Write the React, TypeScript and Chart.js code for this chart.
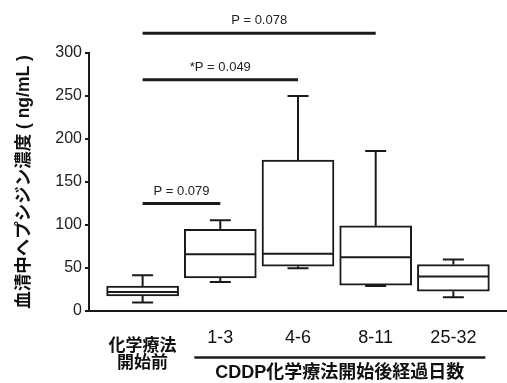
import React, { useEffect, useRef } from 'react';
import { Chart, registerables } from 'chart.js';

Chart.register(...registerables);

// ---- data ----
const categories = ['化学療法\n開始前', '1-3', '4-6', '8-11', '25-32'];
const groupTitle = 'CDDP化学療法開始後経過日数';
const mins = [10, 33.7, 49.6, 29, 16];
const q1s = [17.4, 38.4, 52, 30, 23];
const medians = [22, 66, 66.6, 62.4, 40];
const q3s = [29, 95, 175.6, 99, 54];
const maxs = [41.5, 105.5, 250, 186, 60];
const yTicks = [0, 50, 100, 150, 200, 250, 300];
const yTitle = '血清中ヘプシジン濃度 ( ng/mL )';
const compFrom = [0, 0, 0];
const compTo = [1, 2, 3];
const compLevel = [125, 269, 323];
const compLabels = ['P = 0.079', '*P = 0.049', 'P = 0.078'];

const INK = '#1a1a1a';
const FONT = '"Liberation Sans", Arial, "Noto Sans CJK JP", sans-serif';

const boxPlugin = {
  id: 'boxExtras',
  afterDatasetsDraw(chart: any) {
    const { ctx, scales, chartArea } = chart;
    const x = scales.x;
    const y = scales.y;
    ctx.save();
    ctx.strokeStyle = INK;
    ctx.fillStyle = INK;
    ctx.lineWidth = 2;
    const half = 35;
    const cap = 10.5;
    for (let i = 0; i < categories.length; i++) {
      const cx = x.getPixelForValue(i);
      const ym = y.getPixelForValue(medians[i]);
      ctx.beginPath();
      ctx.moveTo(cx - half, ym);
      ctx.lineTo(cx + half, ym);
      // upper whisker
      const y3 = y.getPixelForValue(q3s[i]);
      const yMax = y.getPixelForValue(maxs[i]);
      ctx.moveTo(cx, y3);
      ctx.lineTo(cx, yMax);
      ctx.moveTo(cx - cap, yMax);
      ctx.lineTo(cx + cap, yMax);
      // lower whisker
      const y1 = y.getPixelForValue(q1s[i]);
      const yMin = y.getPixelForValue(mins[i]);
      ctx.moveTo(cx, y1);
      ctx.lineTo(cx, yMin);
      ctx.moveTo(cx - cap, yMin);
      ctx.lineTo(cx + cap, yMin);
      ctx.stroke();
    }

    // comparison brackets
    ctx.lineWidth = 3;
    ctx.font = '13px ' + FONT;
    ctx.textAlign = 'center';
    ctx.textBaseline = 'middle';
    ctx.fillStyle = '#222';
    for (let k = 0; k < compLabels.length; k++) {
      const xa = x.getPixelForValue(compFrom[k]);
      const xb = x.getPixelForValue(compTo[k]);
      const yy = y.getPixelForValue(compLevel[k]);
      ctx.beginPath();
      ctx.moveTo(xa, yy);
      ctx.lineTo(xb, yy);
      ctx.stroke();
      ctx.fillText(compLabels[k], (xa + xb) / 2, yy - 12.5);
    }

    // category labels
    const base = chartArea.bottom;
    ctx.fillStyle = '#111';
    for (let i = 0; i < categories.length; i++) {
      const cx = x.getPixelForValue(i);
      const lines = categories[i].split('\n');
      if (lines.length > 1) {
        ctx.font = 'bold 17px ' + FONT;
        lines.forEach((ln, j) => ctx.fillText(ln, cx, base + 35 + j * 17));
      } else {
        ctx.font = '18px ' + FONT;
        ctx.fillText(lines[0], cx, base + 27.5);
      }
    }
    // group line and title
    const gx1 = x.getPixelForValue(1) - 26;
    const gx2 = x.getPixelForValue(categories.length - 1) + 32;
    ctx.lineWidth = 2.5;
    ctx.beginPath();
    ctx.moveTo(gx1, base + 46.5);
    ctx.lineTo(gx2, base + 46.5);
    ctx.stroke();
    ctx.font = 'bold 18px ' + FONT;
    ctx.fillText(groupTitle, (gx1 + gx2) / 2, base + 62.5);
    ctx.restore();
  },
};

export default function App() {
  const ref = useRef<HTMLCanvasElement | null>(null);
  useEffect(() => {
    if (!ref.current) return;
    const chart = new Chart(ref.current, {
      type: 'bar',
      data: {
        datasets: [
          {
            data: categories.map((_, i) => ({ x: i, y: [q1s[i], q3s[i]] })) as any,
            backgroundColor: '#ffffff',
            borderColor: INK,
            borderWidth: 2,
            borderSkipped: false,
            barThickness: 72,
          },
        ],
      },
      options: {
        responsive: false,
        animation: false,
        layout: { padding: { top: 53, bottom: 72, left: 0, right: 0 } },
        plugins: { legend: { display: false }, tooltip: { enabled: false } },
        scales: {
          x: {
            type: 'linear',
            min: -0.69,
            max: 4.69,
            offset: false,
            ticks: { display: false },
            grid: { display: false },
            border: { display: true, color: INK, width: 2 },
            afterFit: (s: any) => {
              s.height = 0;
            },
          },
          y: {
            min: 0,
            max: 300,
            afterBuildTicks: (s: any) => {
              s.ticks = yTicks.map((v) => ({ value: v }));
            },
            ticks: {
              color: '#222',
              font: { family: FONT, size: 16 },
              padding: 3,
            },
            grid: {
              display: true,
              drawOnChartArea: false,
              drawTicks: true,
              tickLength: 4,
              color: INK,
              lineWidth: 2,
            },
            border: { display: true, color: INK, width: 2 },
            title: {
              display: true,
              text: yTitle,
              color: '#111',
              font: { family: FONT, size: 17.5, weight: 'bold' },
              padding: { top: 14, bottom: 0 },
            },
            afterFit: (s: any) => {
              s.width = 89;
            },
          },
        },
      },
      plugins: [boxPlugin],
    });
    return () => chart.destroy();
  }, []);
  return (
    <div style={{ position: 'absolute', left: 0, top: 0, width: 507, height: 383, background: '#fff' }}>
      <canvas ref={ref} width={507} height={383} style={{ display: 'block' }} />
    </div>
  );
}
